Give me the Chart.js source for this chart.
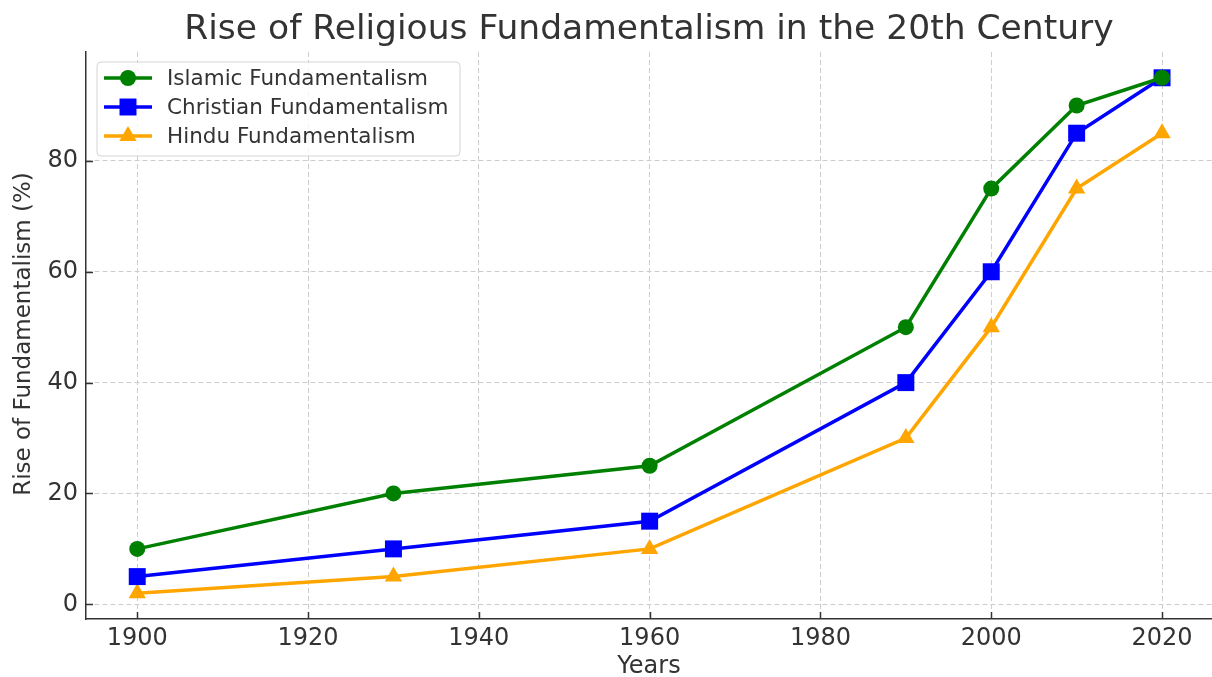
<!DOCTYPE html>
<html>
<head>
<meta charset="utf-8">
<script src="https://cdn.jsdelivr.net/npm/chart.js@4/dist/chart.umd.min.js"></script>
<style>
html,body{margin:0;padding:0;background:#fff;overflow:hidden;}
#wrap{width:1212px;height:677px;position:relative;}
</style>
</head>
<body>
<div id="wrap"><canvas id="c" width="1212" height="677"></canvas></div>
<script>
const years = [1900, 1930, 1960, 1990, 2000, 2010, 2020];
const islamic = [10, 20, 25, 50, 75, 90, 95];
const christian = [5, 10, 15, 40, 60, 85, 95];
const hindu = [2, 5, 10, 30, 50, 75, 85];
const xTicks = [1900, 1920, 1940, 1960, 1980, 2000, 2020];
const yTicks = [0, 20, 40, 60, 80];
const seriesNames = ['Islamic Fundamentalism', 'Christian Fundamentalism', 'Hindu Fundamentalism'];
const titleText = 'Rise of Religious Fundamentalism in the 20th Century';
const xTitle = 'Years';
const yTitle = 'Rise of Fundamentalism (%)';

const colors = ['#008000', '#0000ff', '#ffa500'];
const styles = ['circle', 'rect', 'triangle'];
const radii = [8, 12, 10];
const FONT = '"DejaVu Sans", sans-serif';
const TXT = '#333333';

function pts(vals){ return years.map((y,i)=>({x:y, y:vals[i]})); }
const seriesVals = [islamic, christian, hindu];

const datasets = seriesVals.map((v,i)=>({
  label: seriesNames[i],
  data: pts(v),
  showLine: true,
  borderColor: colors[i],
  backgroundColor: colors[i],
  borderWidth: 3.5,
  pointStyle: styles[i],
  pointRadius: radii[i],
  pointHoverRadius: radii[i],
  pointBorderWidth: 0,
  pointBackgroundColor: colors[i],
  tension: 0,
  clip: false
}));

function drawMarker(ctx, style, x, y, r, color){
  ctx.save();
  ctx.fillStyle = color;
  ctx.beginPath();
  if (style === 'circle') {
    ctx.arc(x, y, r, 0, Math.PI*2);
  } else if (style === 'rect') {
    const s = Math.SQRT1_2 * r;
    ctx.rect(x - s, y - s, 2*s, 2*s);
  } else {
    const a = Math.PI*2/3;
    ctx.moveTo(x, y - r);
    ctx.lineTo(x + Math.sin(a)*r, y - Math.cos(a)*r);
    ctx.lineTo(x + Math.sin(2*a)*r, y - Math.cos(2*a)*r);
    ctx.closePath();
  }
  ctx.fill();
  ctx.restore();
}

const decor = {
  id: 'decor',
  beforeDatasetsDraw(chart){
    const ctx = chart.ctx, a = chart.chartArea;
    const xs = chart.scales.x, ys = chart.scales.y;
    ctx.save();
    ctx.strokeStyle = '#333333';
    ctx.lineWidth = 1.5;
    xTicks.forEach(v=>{
      const px = Math.round(xs.getPixelForValue(v)) + 0.5;
      ctx.beginPath(); ctx.moveTo(px, a.bottom); ctx.lineTo(px, a.bottom - 7); ctx.stroke();
    });
    yTicks.forEach(v=>{
      const py = Math.round(ys.getPixelForValue(v)) + 0.5;
      ctx.beginPath(); ctx.moveTo(a.left, py); ctx.lineTo(a.left + 7, py); ctx.stroke();
    });
    ctx.restore();
  },
  afterDatasetsDraw(chart){
    const ctx = chart.ctx;
    ctx.save();
    const bx = 97, by = 62, bw = 363, bh = 94, rr = 4;
    ctx.beginPath();
    ctx.moveTo(bx+rr, by);
    ctx.arcTo(bx+bw, by, bx+bw, by+bh, rr);
    ctx.arcTo(bx+bw, by+bh, bx, by+bh, rr);
    ctx.arcTo(bx, by+bh, bx, by, rr);
    ctx.arcTo(bx, by, bx+bw, by, rr);
    ctx.closePath();
    ctx.fillStyle = 'rgba(255,255,255,0.8)';
    ctx.fill();
    ctx.strokeStyle = '#d4d4d4';
    ctx.lineWidth = 1;
    ctx.stroke();
    const rows = [78, 107, 136];
    ctx.font = '21.5px ' + FONT;
    ctx.textBaseline = 'middle';
    ctx.textAlign = 'left';
    seriesNames.forEach((n,i)=>{
      const y = rows[i];
      ctx.strokeStyle = colors[i];
      ctx.lineWidth = 3.5;
      ctx.beginPath(); ctx.moveTo(104, y); ctx.lineTo(152, y); ctx.stroke();
      drawMarker(ctx, styles[i], 128, y, radii[i], colors[i]);
      ctx.fillStyle = TXT;
      ctx.fillText(n, 167, y + 1);
    });
    ctx.restore();
  },
  afterDraw(chart){
    const ctx = chart.ctx, a = chart.chartArea;
    ctx.save();
    ctx.fillStyle = TXT;
    ctx.textAlign = 'center';
    ctx.textBaseline = 'middle';
    ctx.font = '34.5px ' + FONT;
    ctx.fillText(titleText, (a.left + a.right)/2, 30);
    ctx.font = '24px ' + FONT;
    ctx.fillText(xTitle, (a.left + a.right)/2, 667);
    ctx.font = '23px ' + FONT;
    ctx.translate(24, 334);
    ctx.rotate(-Math.PI/2);
    ctx.fillText(yTitle, 0, 0);
    ctx.restore();
  }
};

new Chart(document.getElementById('c'), {
  type: 'scatter',
  data: { datasets },
  plugins: [decor],
  options: {
    responsive: false,
    animation: false,
    events: [],
    layout: { autoPadding: false, padding: { top: 52, left: 0, right: 0, bottom: 0 } },
    plugins: { legend: { display: false }, tooltip: { enabled: false }, title: { display: false } },
    scales: {
      x: {
        type: 'linear',
        min: 1894,
        max: 2025.85,
        afterBuildTicks(s){ s.ticks = xTicks.map(v=>({value:v})); },
        afterFit(s){ s.height = 58; s.paddingLeft = 0; s.paddingRight = 0; },
        grid: { color: '#cccccc', lineWidth: 1, drawTicks: false },
        border: { display: true, color: '#333333', width: 1.5, dash: [5,3] },
        ticks: { color: TXT, font: { family: FONT, size: 24 }, padding: 5, maxRotation: 0, autoSkip: false,
                 callback: v => String(v) }
      },
      y: {
        type: 'linear',
        min: -2.65,
        max: 99.65,
        afterBuildTicks(s){ s.ticks = yTicks.map(v=>({value:v})); },
        afterFit(s){ s.width = 86; s.paddingTop = 0; s.paddingBottom = 0; },
        grid: { color: '#cccccc', lineWidth: 1, drawTicks: false },
        border: { display: true, color: '#333333', width: 1.5, dash: [5,3] },
        ticks: { color: TXT, font: { family: FONT, size: 24 }, padding: 8, autoSkip: false,
                 callback: v => String(v) }
      }
    }
  }
});
</script>
</body>
</html>
